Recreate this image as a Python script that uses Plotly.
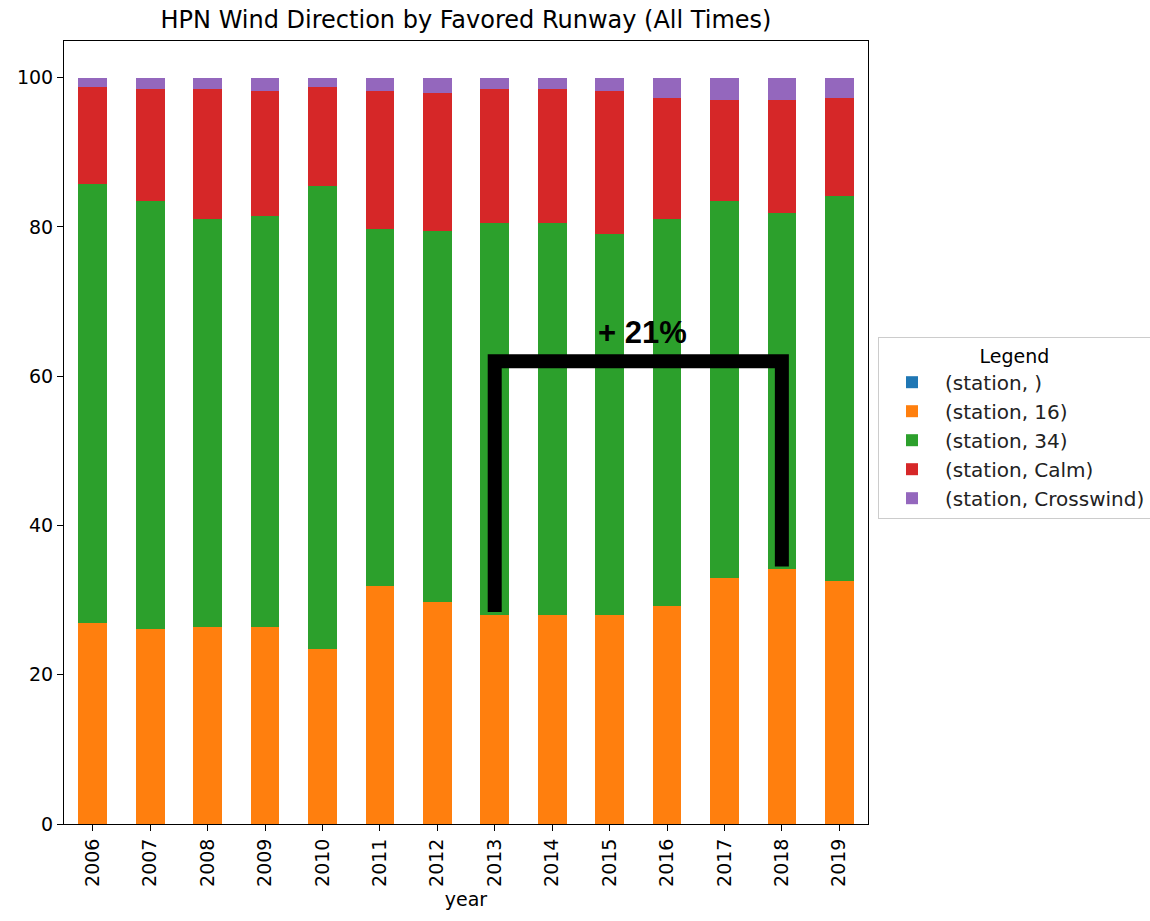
import plotly.graph_objects as go

years = ["2006", "2007", "2008", "2009", "2010", "2011", "2012",
         "2013", "2014", "2015", "2016", "2017", "2018", "2019"]

# cumulative tops
top_16 = [26.98, 26.14, 26.4, 26.4, 23.4, 31.95, 29.7, 28.06, 28.06, 28.06, 29.2, 33.0, 34.1, 32.5]
top_34 = [85.75, 83.5, 81.05, 81.4, 85.5, 79.7, 79.4, 80.5, 80.5, 79.1, 81.05, 83.5, 81.9, 84.1]
top_calm = [98.75, 98.5, 98.5, 98.2, 98.75, 98.2, 97.9, 98.5, 98.5, 98.2, 97.3, 97.05, 97.05, 97.3]

station_blank = [0.0] * len(years)
station_16 = top_16
station_34 = [round(b - a, 2) for a, b in zip(top_16, top_34)]
station_calm = [round(b - a, 2) for a, b in zip(top_34, top_calm)]
station_cross = [round(100 - a, 2) for a in top_calm]

series_names = ["(station, )", "(station, 16)", "(station, 34)", "(station, Calm)", "(station, Crosswind)"]
series_values = [station_blank, station_16, station_34, station_calm, station_cross]
series_colors = ["#1f77b4", "#ff7f0e", "#2ca02c", "#d62728", "#9467bd"]

bracket_x = ["2013", "2013", "2018", "2018"]
bracket_y = [28.4, 62.0, 62.0, 34.5]
bracket_label = "+ 21%"
label_x = 9.58
label_y = 65.8

W, H = 1150, 921
PL, PR, PT, PB = 64, 868, 41, 824  # plot area in page pixels

fig = go.Figure()
for i, (name, vals, col) in enumerate(zip(series_names, series_values, series_colors)):
    fig.add_trace(go.Bar(x=years, y=vals, name=name, marker_color=col,
                         marker_line_width=0, legendgroup=str(i)))

fig.add_trace(go.Scatter(x=bracket_x, y=bracket_y, mode="lines",
                         line=dict(color="black", width=14),
                         showlegend=False, hoverinfo="skip"))

fig.add_annotation(x=label_x, y=label_y, text="<b>" + bracket_label + "</b>",
                   showarrow=False, xref="x", yref="y",
                   font=dict(family="Liberation Sans, Arial", size=31, color="black"))

tick_font = dict(family="DejaVu Sans", size=19, color="black")
pw = PR - PL
ph = PB - PT

fig.update_layout(
    width=W, height=H,
    barmode="stack", bargap=0.5,
    plot_bgcolor="white", paper_bgcolor="white",
    margin=dict(l=PL, r=W - PR, t=PT, b=H - PB, autoexpand=False),
    title=dict(text="HPN Wind Direction by Favored Runway (All Times)",
               x=((PL + PR) / 2) / W, xanchor="center",
               y=1 - 20 / H, yanchor="middle",
               font=dict(family="DejaVu Sans", size=24, color="black")),
    legend=dict(title=dict(text="Legend", side="top center",
                           font=dict(family="DejaVu Sans", size=19, color="black")),
                traceorder="normal",
                x=(878 - PL) / pw, xanchor="left", y=(PB - 337) / ph, yanchor="top",
                bordercolor="#cccccc", borderwidth=1,
                font=dict(family="DejaVu Sans", size=20, color="#222222"),
                tracegroupgap=7, itemwidth=56),
    xaxis=dict(type="category", range=[-0.5, 13.5], tickangle=-90,
               showline=True, linecolor="black", linewidth=1, mirror=True,
               ticks="outside", ticklen=6, tickcolor="black",
               tickfont=tick_font, showgrid=False,
               title=dict(text="year", font=dict(family="DejaVu Sans", size=19, color="black"),
                          standoff=6)),
    yaxis=dict(range=[0, 104.9], tickvals=[0, 20, 40, 60, 80, 100],
               showline=True, linecolor="black", linewidth=1, mirror=True,
               ticks="outside", ticklen=6, tickcolor="black",
               tickfont=tick_font, showgrid=False, zeroline=False),
)

fig.write_html("out.html", config={"displayModeBar": False},
               post_script="document.body.style.margin='0';document.body.style.overflow='hidden';")
